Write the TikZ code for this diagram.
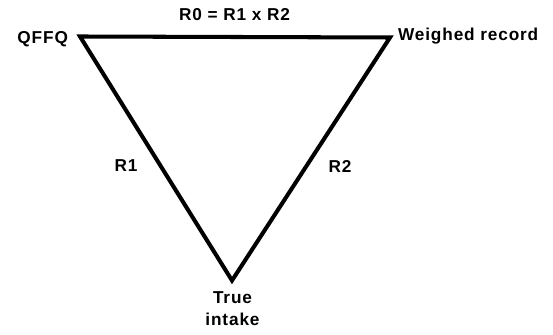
\documentclass[tikz,border=0pt]{standalone}
\usepackage{fontspec}
\setmainfont{Liberation Sans}
\newfontfamily\lblfont[LetterSpace=5]{Liberation Sans}
\usetikzlibrary{positioning}

\begin{document}
\begin{tikzpicture}[
  edge/.style={line width=2.3pt, line join=miter, black},
  lbl/.style={font=\lblfont\bfseries\fontsize{9.8}{12.5}\selectfont, inner sep=1pt}]
\useasboundingbox (0,0) rectangle (11.06,6.7);

%% vertices
\coordinate (q) at (1.60,5.97);
\coordinate (w) at (7.80,5.95);
\coordinate (t) at (4.64,1.09);

\draw[edge] (q) -- (w) -- (t) -- cycle;

%% labels
\node[lbl, anchor=base east] (ql) at (1.40,5.82) {QFFQ};
\node[lbl, anchor=base west] (wl) at (7.92,5.88) {Weighed record};
\node[lbl, anchor=base] (r0) at (4.69,6.28) {R0 = R1 x R2};
\node[lbl, anchor=base] (r1) at (2.52,3.26) {R1};
\node[lbl, anchor=base] (r2) at (6.80,3.24) {R2};
\node[lbl, align=center, anchor=base] (tl) at (4.65,0.20) {True\\intake};
\end{tikzpicture}
\end{document}
